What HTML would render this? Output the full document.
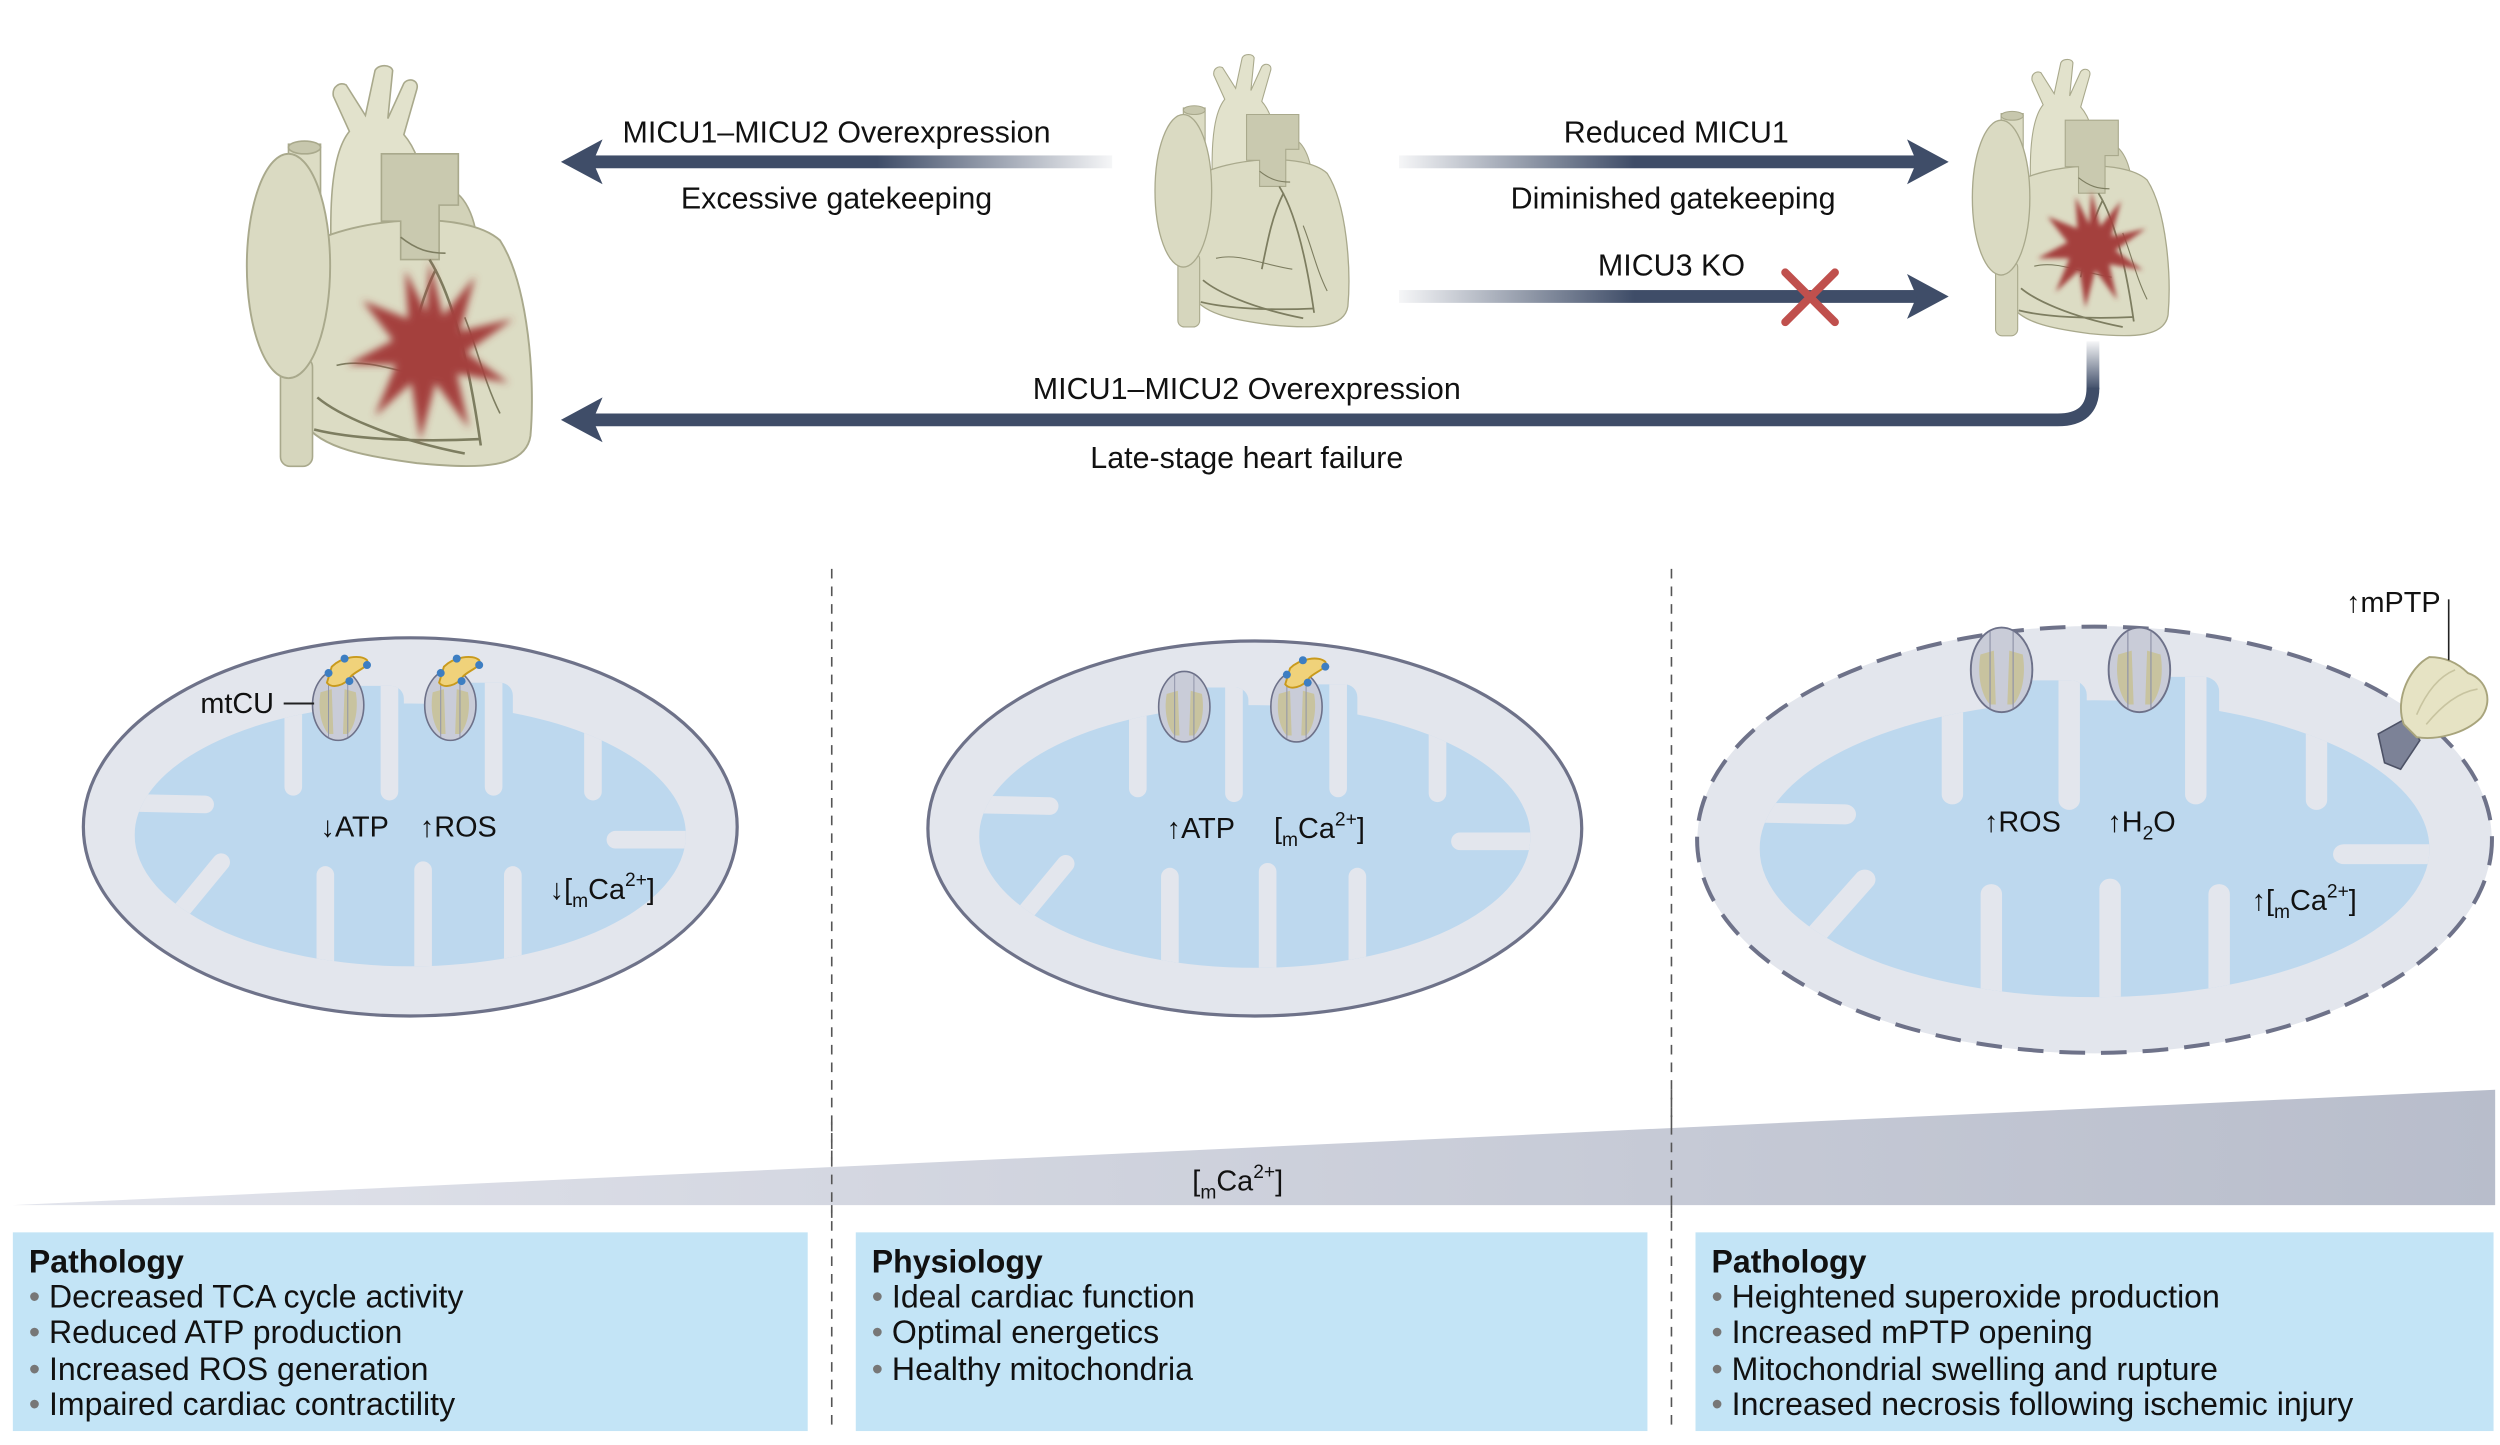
<!DOCTYPE html>
<html><head><meta charset="utf-8"><style>
html,body{margin:0;padding:0;background:#fff;}
svg{display:block;}
text{font-family:"Liberation Sans","DejaVu Sans",sans-serif;fill:#111;}
</style></head><body>
<svg width="2500" height="1445" viewBox="0 0 1560 901.7" xmlns="http://www.w3.org/2000/svg">
<defs>
<linearGradient id="fadeL" x1="0" x2="1" y1="0" y2="0"><stop offset="0.55" stop-color="#3f4d68"/><stop offset="1" stop-color="#3f4d68" stop-opacity="0.05"/></linearGradient>
<linearGradient id="fadeR" x1="0" x2="1" y1="0" y2="0"><stop offset="0" stop-color="#3f4d68" stop-opacity="0.05"/><stop offset="0.45" stop-color="#3f4d68"/></linearGradient>
<linearGradient id="fadeV" x1="0" x2="0" y1="0" y2="1"><stop offset="0" stop-color="#3f4d68" stop-opacity="0.05"/><stop offset="1" stop-color="#3f4d68"/></linearGradient>
<linearGradient id="wedge" x1="0" x2="1" y1="0" y2="0"><stop offset="0" stop-color="#e2e4ec"/><stop offset="1" stop-color="#b8bdcb"/></linearGradient>
<filter id="blur" x="-30%" y="-30%" width="160%" height="160%"><feGaussianBlur stdDeviation="2.5"/></filter>
<clipPath id="mclip">
  <ellipse cx="0" cy="5" rx="172" ry="82"/>
  <rect x="-48" y="-88" width="44" height="60" rx="8"/>
  <rect x="20" y="-90" width="44" height="60" rx="8"/>
</clipPath>

<g id="heart">
  <ellipse cx="128" cy="120" rx="20" ry="40" fill="#d2d2b8" stroke="#a9a98c" stroke-width="1"/>
  <path d="M58 150 C55 100 55 60 68 44 L58 22 C57 16 62 13 66 15 L78 34 L84 6 C86 2 94 2 95 6 L92 36 L102 14 C105 10 112 12 110 18 L102 46 C116 62 120 95 118 150 Z" fill="#e2e2cc" stroke="#a9a98c" stroke-width="1"/>
  <path d="M42 115 C70 98 140 92 162 112 C180 140 184 200 181 234 C178 254 150 255 110 251 C80 247 50 242 40 226 Z" fill="#dcdcc4" stroke="#a9a98c" stroke-width="1.2"/>
  <rect x="25" y="185" width="20" height="68" rx="6" fill="#d6d6bd" stroke="#a9a98c"/>
  <rect x="30" y="52" width="20" height="80" fill="#dcdcc4" stroke="#a9a98c"/>
  <ellipse cx="40" cy="54" rx="10" ry="4" fill="#c7c7ad" stroke="#a9a98c"/>
  <ellipse cx="30" cy="128" rx="26" ry="70" fill="#dadac2" stroke="#a9a98c" stroke-width="1.2"/>
  <path d="M88 58 h48 v32 h-12 v34 h-24 v-24 h-12 Z" fill="#c9c9af" stroke="#a9a98c"/>
  <g fill="none" stroke="#7d7d60" stroke-width="1.6">
    <path d="M118 124 C128 140 140 170 150 240"/>
    <path d="M122 130 C112 150 108 170 102 200"/>
    <path d="M48 210 C60 220 90 235 140 245"/>
    <path d="M46 230 C70 236 110 238 150 236"/>
    <path d="M60 190 C80 185 100 195 130 200" stroke-width="1"/>
    <path d="M140 160 C148 180 152 200 162 220" stroke-width="1"/>
    <path d="M100 110 C110 118 118 120 128 120" stroke-width="1"/>
  </g>
</g>
<g id="star">
  <polygon filter="url(#blur)" fill="#a43f3c" points="0,-58 9,-22 30,-48 20,-12 55,-20 24,2 52,22 18,16 26,52 4,22 -6,60 -12,22 -36,44 -22,10 -54,10 -24,-6 -44,-32 -14,-20 -16,-52 -2,-24"/>
</g>

<g id="mito">
  <ellipse cx="0" cy="0" rx="204" ry="118" fill="#e3e6ed"/>
  <g clip-path="url(#mclip)">
    <rect x="-180" y="-95" width="360" height="190" fill="#bdd8ee"/>
    <g stroke="#e3e6ed" stroke-width="11" stroke-linecap="round" fill="none">
      <line x1="-73" y1="-130" x2="-73" y2="-25"/>
      <line x1="-13" y1="-130" x2="-13" y2="-22"/>
      <line x1="52" y1="-130" x2="52" y2="-25"/>
      <line x1="114" y1="-130" x2="114" y2="-22"/>
      <line x1="-53" y1="130" x2="-53" y2="30"/>
      <line x1="8" y1="130" x2="8" y2="27"/>
      <line x1="64" y1="130" x2="64" y2="30"/>
      <line x1="-220" y1="-16" x2="-128" y2="-14"/>
      <line x1="220" y1="8" x2="128" y2="8"/>
      <line x1="-170" y1="85" x2="-118" y2="22"/>
    </g>
  </g>
</g>
<g id="mcu">
  <ellipse cx="0" cy="0" rx="16" ry="22" fill="#c9ccd8" stroke="#6d7189" stroke-width="1"/>
  <path d="M-11 -8 C-13 4 -10 14 -6 18 L-3 18 L-4 -10 Z" fill="#c8c39f"/>
  <path d="M11 -8 C13 4 10 14 6 18 L3 18 L4 -10 Z" fill="#c8c39f"/>
  <path d="M-6 -20 L-6 20 M6 -20 L6 20" stroke="#8e92a8" stroke-width="0.6"/>
</g>
<g id="micu">
  <path d="M-6 -10 C0 -16 12 -18 16 -14 C18 -10 10 -8 6 -4 C2 2 -6 4 -9 0 Z" fill="#f0d27a" stroke="#c99a1c" stroke-width="1.2"/>
  <circle cx="-8" cy="-6" r="2.5" fill="#3d7ec2"/><circle cx="2" cy="-15" r="2.5" fill="#3d7ec2"/><circle cx="16" cy="-11" r="2.5" fill="#3d7ec2"/><circle cx="5" cy="-1" r="2.5" fill="#3d7ec2"/>
</g>
</defs>

<use href="#heart" transform="translate(150,38)"/>
<use href="#star" transform="translate(268,218) scale(0.95)"/>
<use href="#heart" transform="translate(718,32) scale(0.68)"/>
<use href="#heart" transform="translate(1228,35) scale(0.69)"/>
<use href="#star" transform="translate(1305,155) scale(0.62)"/>

<rect x="368" y="97" width="326" height="8" fill="url(#fadeL)"/>
<polygon points="350,101 376,87 370,101 376,115" fill="#3f4d68"/>
<rect x="873" y="97" width="326" height="8" fill="url(#fadeR)"/>
<polygon points="1216,101 1190,87 1196,101 1190,115" fill="#3f4d68"/>
<rect x="873" y="181" width="326" height="8" fill="url(#fadeR)"/>
<polygon points="1216,185 1190,171 1196,185 1190,199" fill="#3f4d68"/>
<g stroke="#c0504d" stroke-width="5" stroke-linecap="round"><line x1="1114" y1="170" x2="1145" y2="201"/><line x1="1145" y1="170" x2="1114" y2="201"/></g>
<rect x="1302" y="213" width="8" height="30" fill="url(#fadeV)"/>
<path d="M1306 242 Q1306 262 1284 262 L368 262" fill="none" stroke="#3f4d68" stroke-width="8"/>
<polygon points="350,262 376,248 370,262 376,276" fill="#3f4d68"/>

<g font-size="19" text-anchor="middle">
<text x="522" y="89">MICU1–MICU2 Overexpression</text>
<text x="522" y="130">Excessive gatekeeping</text>
<text x="1046" y="89">Reduced MICU1</text>
<text x="1044" y="130">Diminished gatekeeping</text>
<text x="1043" y="172">MICU3 KO</text>
<text x="778" y="249">MICU1–MICU2 Overexpression</text>
<text x="778" y="292">Late-stage heart failure</text>
</g>

<g stroke="#555" stroke-width="1" stroke-dasharray="6,5"><line x1="519" y1="355" x2="519" y2="893"/><line x1="1043" y1="355" x2="1043" y2="893"/></g>

<g transform="translate(256,516)">
  <use href="#mito"/>
  <ellipse cx="0" cy="0" rx="204" ry="118" fill="none" stroke="#6e7289" stroke-width="2"/>
</g>
<use href="#mcu" transform="translate(211,440)"/><use href="#micu" transform="translate(213,426)"/>
<use href="#mcu" transform="translate(281,440)"/><use href="#micu" transform="translate(283,426)"/>
<line x1="177" y1="439" x2="196" y2="439" stroke="#222" stroke-width="1.2"/>
<text x="125" y="445" font-size="18">mtCU</text>
<text x="200" y="522" font-size="18">↓ATP</text>
<text x="262" y="522" font-size="18">↑ROS</text>
<text x="343" y="561" font-size="18">↓[<tspan font-size="12" dy="5">m</tspan><tspan dy="-5">Ca</tspan><tspan font-size="12" dy="-8">2+</tspan><tspan dy="8">]</tspan></text>

<g transform="translate(783,517)">
  <use href="#mito"/>
  <ellipse cx="0" cy="0" rx="204" ry="117" fill="none" stroke="#6e7289" stroke-width="2"/>
</g>
<use href="#mcu" transform="translate(739,441)"/>
<use href="#mcu" transform="translate(809,441)"/><use href="#micu" transform="translate(811,427)"/>
<text x="728" y="523" font-size="18">↑ATP</text>
<text x="795" y="523" font-size="18">[<tspan font-size="12" dy="5">m</tspan><tspan dy="-5">Ca</tspan><tspan font-size="12" dy="-8">2+</tspan><tspan dy="8">]</tspan></text>

<g transform="translate(1307,524) scale(1.215,1.13)">
  <use href="#mito"/>
</g>
<ellipse cx="1307" cy="524" rx="248" ry="133" fill="none" stroke="#6e7289" stroke-width="2.5" stroke-dasharray="16,10"/>
<use href="#mcu" transform="translate(1249,418) scale(1.2)"/>
<use href="#mcu" transform="translate(1335,418) scale(1.2)"/>
<path d="M1484 458 L1502 448 L1510 462 L1498 480 L1488 476 Z" fill="#7c8297" stroke="#4d5266" stroke-width="1"/>
<path d="M1500 452 C1494 436 1504 416 1516 410 C1526 410 1534 414 1540 420 C1552 424 1556 438 1548 448 C1538 458 1520 462 1508 460 Z" fill="#e6e3c4" stroke="#a8a47c" stroke-width="1.2"/>
<path d="M1508 446 C1514 432 1522 422 1532 418 M1514 452 C1524 440 1534 432 1546 430" fill="none" stroke="#c8c4a0" stroke-width="1"/>
<line x1="1528" y1="374" x2="1528" y2="412" stroke="#222" stroke-width="1"/>
<text x="1464" y="382" font-size="18">↑mPTP</text>
<text x="1238" y="519" font-size="18">↑ROS</text>
<text x="1315" y="519" font-size="18">↑H<tspan font-size="12" dy="5">2</tspan><tspan dy="-5">O</tspan></text>
<text x="1405" y="568" font-size="18">↑[<tspan font-size="12" dy="5">m</tspan><tspan dy="-5">Ca</tspan><tspan font-size="12" dy="-8">2+</tspan><tspan dy="8">]</tspan></text>

<polygon points="8,752 1557,680 1557,752" fill="url(#wedge)"/>
<g stroke="#555" stroke-width="1" stroke-dasharray="6,5"><line x1="519" y1="700" x2="519" y2="760"/><line x1="1043" y1="680" x2="1043" y2="760"/></g>
<text x="744" y="743" font-size="18">[<tspan font-size="12" dy="5">m</tspan><tspan dy="-5">Ca</tspan><tspan font-size="12" dy="-8">2+</tspan><tspan dy="8">]</tspan></text>

<rect x="8" y="769" width="496" height="124" fill="#c3e4f6"/>
<rect x="534" y="769" width="494" height="124" fill="#c3e4f6"/>
<rect x="1058" y="769" width="498" height="124" fill="#c3e4f6"/>
<g font-size="20">
<text x="18" y="794" font-weight="bold">Pathology</text>
<text x="18" y="816"><tspan fill="#777">•</tspan> Decreased TCA cycle activity</text>
<text x="18" y="838"><tspan fill="#777">•</tspan> Reduced ATP production</text>
<text x="18" y="861"><tspan fill="#777">•</tspan> Increased ROS generation</text>
<text x="18" y="883"><tspan fill="#777">•</tspan> Impaired cardiac contractility</text>
<text x="544" y="794" font-weight="bold">Physiology</text>
<text x="544" y="816"><tspan fill="#777">•</tspan> Ideal cardiac function</text>
<text x="544" y="838"><tspan fill="#777">•</tspan> Optimal energetics</text>
<text x="544" y="861"><tspan fill="#777">•</tspan> Healthy mitochondria</text>
<text x="1068" y="794" font-weight="bold">Pathology</text>
<text x="1068" y="816"><tspan fill="#777">•</tspan> Heightened superoxide production</text>
<text x="1068" y="838"><tspan fill="#777">•</tspan> Increased mPTP opening</text>
<text x="1068" y="861"><tspan fill="#777">•</tspan> Mitochondrial swelling and rupture</text>
<text x="1068" y="883"><tspan fill="#777">•</tspan> Increased necrosis following ischemic injury</text>
</g>
</svg>
</body></html>
